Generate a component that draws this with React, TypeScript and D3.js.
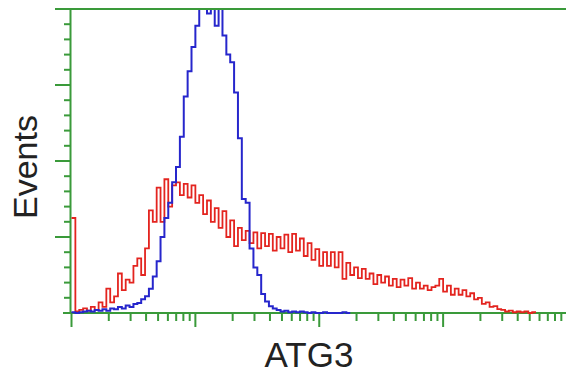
import React, { useRef, useEffect } from "react";
import * as d3 from "d3";

// histogram channels: 32 bins per decade, starting at 10^0
const binsPerDecade = 32;
const xDecades = [1, 10, 100, 1000, 10000];

// isotype / negative control (red) counts per bin
const redCounts = [
  125, 2, 4, 6, 3, 8, 4, 14, 8, 32,
  14, 22, 52, 30, 44, 40, 62, 72, 50, 85,
  135, 120, 165, 120, 176, 140, 168, 172, 155, 170,
  152, 168, 145, 155, 130, 148, 120, 138, 112, 134,
  100, 122, 88, 112, 96, 108, 92, 106, 85, 105,
  88, 104, 82, 100, 85, 103, 80, 104, 82, 98,
  75, 92, 70, 84, 62, 80, 62, 80, 60, 80,
  45, 66, 50, 60, 46, 58, 45, 52, 38, 50,
  40, 48, 36, 45, 34, 44, 36, 46, 32, 40,
  32, 36, 30, 34, 36, 45, 28, 36, 24, 32,
  24, 30, 22, 26, 18, 20, 12, 14, 8, 9,
  5, 4, 2, 3, 1, 2, 1, 2, 0, 1,
];

// ATG3 stained (blue) counts per bin
const blueCounts = [
  1, 0, 1, 2, 3, 2, 4, 3, 5, 3,
  6, 5, 8, 6, 10, 8, 12, 13, 18, 22,
  32, 48, 68, 100, 125, 145, 172, 192, 232, 285,
  318, 350, 378, 430, 440, 394, 430, 378, 410, 365,
  340, 330, 290, 230, 150, 145, 85, 60, 50, 25,
  15, 9, 6, 4, 2, 3, 1, 2, 1, 2,
  1, 0, 1, 0, 0, 1, 0, 0, 0, 0, 1, 0,
];

const yMajor = [100, 200, 300, 400];

const App = () => {
  const ref = useRef<SVGSVGElement>(null);

  useEffect(() => {
    const W = 566;
    const H = 375;
    const svg = d3.select(ref.current);
    svg.selectAll("*").remove();
    svg.attr("width", W).attr("height", H);

    const axisColor = "#3a9a3a";
    const left = 70.5;
    const top = 9;
    const bottom = 313;

    const x = d3.scaleLog().domain([1, 10000]).range([71.5, 567]);
    const y = d3.scaleLinear().domain([0, 400]).range([bottom, top]);

    svg.append("rect").attr("width", W).attr("height", H).attr("fill", "#fff");

    // axes / frame
    const ax = svg.append("g").attr("stroke", axisColor).attr("stroke-width", 2);
    ax.append("line").attr("x1", 55).attr("x2", W).attr("y1", top).attr("y2", top);
    ax.append("line").attr("x1", 63).attr("x2", W).attr("y1", bottom).attr("y2", bottom);
    ax.append("line").attr("x1", left).attr("x2", left).attr("y1", top).attr("y2", bottom + 1);

    // y ticks: minor every 20, major every 100
    d3.range(20, 400, 20).forEach((v) => {
      const major = yMajor.includes(v);
      ax.append("line")
        .attr("x1", major ? 55 : 64)
        .attr("x2", left)
        .attr("y1", y(v))
        .attr("y2", y(v));
    });

    // x ticks: log decades with minor ticks 2..9
    xDecades.forEach((d, k) => {
      if (x(d) <= W) {
        ax.append("line").attr("x1", x(d)).attr("x2", x(d)).attr("y1", bottom).attr("y2", bottom + 14);
      }
      if (k < xDecades.length - 1) {
        d3.range(2, 10).forEach((m) => {
          const px = x(d * m);
          ax.append("line").attr("x1", px).attr("x2", px).attr("y1", bottom).attr("y2", bottom + 8);
        });
      }
    });

    // histogram step lines
    svg.append("clipPath")
      .attr("id", "plot-clip")
      .append("rect")
      .attr("x", left)
      .attr("y", top + 1)
      .attr("width", W - left)
      .attr("height", bottom - top + 2);

    const toPoints = (counts: number[]) => {
      const pts = counts.map((c, i) => [x(Math.pow(10, i / binsPerDecade)), y(c)] as [number, number]);
      pts.push([x(Math.pow(10, counts.length / binsPerDecade)), y(counts[counts.length - 1])]);
      return pts;
    };
    const line = d3.line().curve(d3.curveStepAfter);

    const plot = svg.append("g").attr("clip-path", "url(#plot-clip)");
    plot.append("path")
      .attr("d", line(toPoints(redCounts)))
      .attr("fill", "none")
      .attr("stroke", "#e3241f")
      .attr("stroke-width", 1.8);
    plot.append("path")
      .attr("d", line(toPoints(blueCounts)))
      .attr("fill", "none")
      .attr("stroke", "#2626cc")
      .attr("stroke-width", 2);

    // labels
    svg.append("text")
      .attr("transform", "translate(37,167) rotate(-90)")
      .attr("text-anchor", "middle")
      .attr("font-family", "Liberation Sans, Arial, sans-serif")
      .attr("font-size", 34)
      .attr("fill", "#222")
      .text("Events");
    svg.append("text")
      .attr("x", 309)
      .attr("y", 367)
      .attr("text-anchor", "middle")
      .attr("font-family", "Liberation Sans, Arial, sans-serif")
      .attr("font-size", 35)
      .attr("fill", "#222")
      .text("ATG3");
  }, []);

  return <svg ref={ref} style={{ display: "block", position: "fixed", left: 0, top: 0 }} />;
};

export default App;
